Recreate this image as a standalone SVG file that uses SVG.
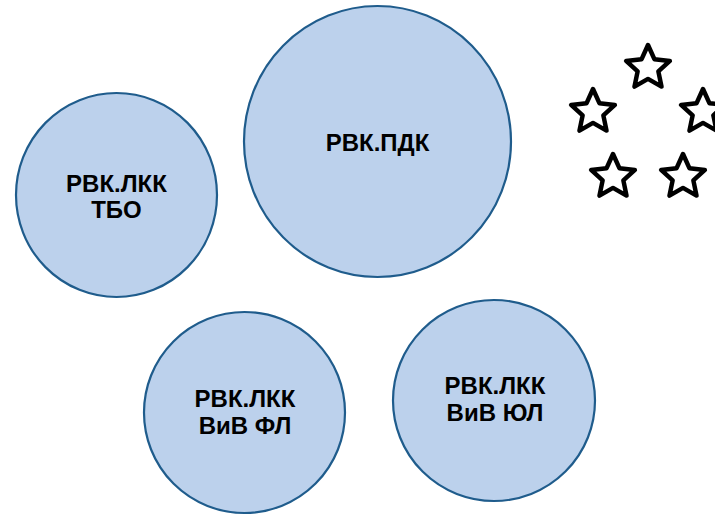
<svg xmlns="http://www.w3.org/2000/svg" xmlns:xlink="http://www.w3.org/1999/xlink" width="715" height="517" viewBox="0 0 715 517">
<style>
.node{fill:#BCD1EC;stroke:#1F5C8C;stroke-width:2.2}
.lbl{font-family:"Liberation Sans",Arial,sans-serif;font-weight:bold;font-size:24px;fill:#000;text-anchor:middle}
.star{fill:none;stroke:#000;stroke-width:4.5;stroke-linejoin:round}
</style>
<defs>
<path id="star" class="star" d="M0,-23 L6.4,-8.8 L21.87,-7.11 L10.36,3.37 L13.52,18.61 L0,10.9 L-13.52,18.61 L-10.36,3.37 L-21.87,-7.11 L-6.4,-8.8 Z"/>
</defs>
<rect width="715" height="517" fill="#fff"/>
<g id="pdk">
<ellipse class="node" cx="377.5" cy="141.5" rx="133.5" ry="135.5"/>
<text class="lbl" x="377.5" y="151">РВК.ПДК</text>
</g>
<g id="tbo">
<ellipse class="node" cx="116.5" cy="195" rx="100.5" ry="102"/>
<text class="lbl" x="116.5" y="192">РВК.ЛКК</text>
<text class="lbl" x="116.5" y="218">ТБО</text>
</g>
<g id="fl">
<ellipse class="node" cx="244.5" cy="412.5" rx="100.5" ry="100.5"/>
<text class="lbl" x="245" y="407">РВК.ЛКК</text>
<text class="lbl" x="245" y="434">ВиВ ФЛ</text>
</g>
<g id="yul">
<ellipse class="node" cx="494" cy="400.5" rx="101" ry="100.5"/>
<text class="lbl" x="495" y="394">РВК.ЛКК</text>
<text class="lbl" x="495" y="421">ВиВ ЮЛ</text>
</g>
<g id="stars">
<use xlink:href="#star" href="#star" x="648" y="68"/>
<use xlink:href="#star" href="#star" x="593" y="112"/>
<use xlink:href="#star" href="#star" x="703" y="112"/>
<use xlink:href="#star" href="#star" x="613" y="177"/>
<use xlink:href="#star" href="#star" x="683" y="177"/>
</g>
</svg>
